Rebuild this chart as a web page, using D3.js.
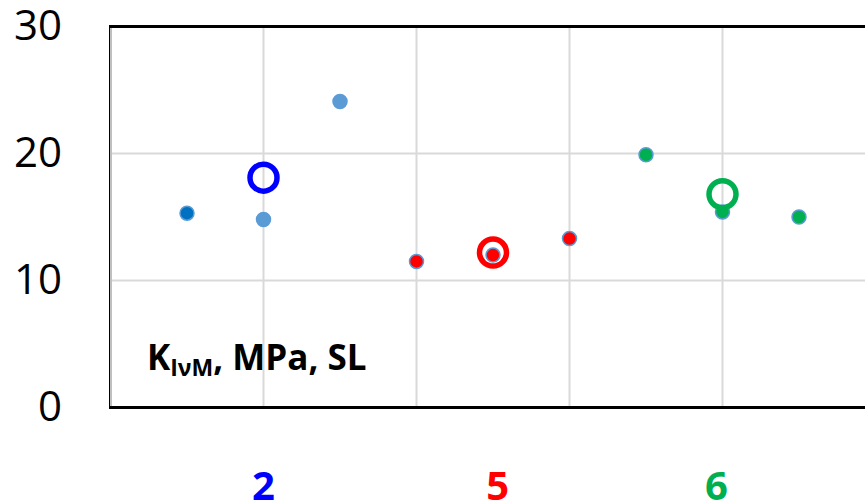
<!DOCTYPE html>
<html>
<head>
<meta charset="utf-8">
<script src="https://cdn.jsdelivr.net/npm/d3@7"></script>
<style>
  body { margin: 0; background: #fff; }
  svg { display: block; }
</style>
</head>
<body>
<div id="chart"></div>
<script>
// ---- Data ----
const yTicks = [0, 10, 20, 30];
const gridX = [1, 2, 3, 4];

// individual measurements
const pointX = [0.5, 1, 1.5, 2, 2.5, 3, 3.5, 4, 4.5];
const pointValues = [15.3, 14.8, 24.1, 11.5, 12.0, 13.3, 19.9, 15.4, 15.0];
const pointGroup = ['2', '2', '2', '5', '5', '5', '6', '6', '6'];

// group means (open rings)
const groups = ['2', '5', '6'];
const meanX = [1, 2.5, 4];
const meanValues = [18.1, 12.2, 16.8];
const labelX = [1, 2.53, 3.96];

// ---- Styles ----
const groupColor = d3.scaleOrdinal().domain(groups).range(['#0000FF', '#FF0000', '#00B050']);
const pointFill = (g, i) => g === '2' ? (i === 0 ? '#0070C0' : '#5B9BD5') : groupColor(g);

const width = 865, height = 504;

const svg = d3.select('#chart')
  .append('svg')
  .attr('width', width)
  .attr('height', height);

// Scales
const x = d3.scaleLinear().domain([0, 5]).range([110.5, 875.5]);
const y = d3.scaleLinear().domain([0, 30]).range([407.5, 26.5]);

// Gridlines
svg.append('g')
  .selectAll('line')
  .data(yTicks.filter(d => d > 0 && d < 30))
  .join('line')
  .attr('x1', x(0)).attr('x2', width)
  .attr('y1', d => y(d)).attr('y2', d => y(d))
  .attr('stroke', '#D9D9D9').attr('stroke-width', 2);

svg.append('g')
  .selectAll('line')
  .data(gridX)
  .join('line')
  .attr('x1', d => x(d)).attr('x2', d => x(d))
  .attr('y1', y(30)).attr('y2', y(0))
  .attr('stroke', '#D9D9D9').attr('stroke-width', 2);

// Frame
svg.append('line')
  .attr('x1', 111).attr('x2', 111)
  .attr('y1', y(30)).attr('y2', y(0))
  .attr('stroke', '#BFBFBF').attr('stroke-width', 2);
svg.append('line')
  .attr('x1', 109.5).attr('x2', 109.5)
  .attr('y1', y(30) - 1.5).attr('y2', y(0) + 1.5)
  .attr('stroke', '#000').attr('stroke-width', 1);
svg.append('line')
  .attr('x1', 109).attr('x2', width)
  .attr('y1', y(30)).attr('y2', y(30))
  .attr('stroke', '#000').attr('stroke-width', 3);
svg.append('line')
  .attr('x1', 109).attr('x2', width)
  .attr('y1', y(0)).attr('y2', y(0))
  .attr('stroke', '#000').attr('stroke-width', 3);

// Y axis labels
const yAxis = d3.axisLeft(y)
  .tickValues(yTicks)
  .tickSize(0)
  .tickPadding(0)
  .tickFormat(d3.format('d'));

svg.append('g')
  .attr('transform', 'translate(62,0)')
  .call(yAxis)
  .call(g => g.select('.domain').remove())
  .call(g => g.selectAll('text')
    .attr('font-family', '"Open Sans", sans-serif')
    .attr('font-size', 42)
    .attr('fill', '#000'));

// Individual points
svg.append('g')
  .selectAll('circle')
  .data(pointX)
  .join('circle')
  .attr('cx', d => x(d))
  .attr('cy', (d, i) => y(pointValues[i]))
  .attr('r', 7)
  .attr('fill', (d, i) => pointFill(pointGroup[i], i))
  .attr('stroke', '#5B9BD5')
  .attr('stroke-width', 1.5);

// Mean rings
svg.append('g')
  .selectAll('circle')
  .data(meanX)
  .join('circle')
  .attr('cx', d => x(d))
  .attr('cy', (d, i) => y(meanValues[i]))
  .attr('r', 13.5)
  .attr('fill', 'none')
  .attr('stroke', (d, i) => groupColor(groups[i]))
  .attr('stroke-width', 5.5);

// Group labels
svg.append('g')
  .selectAll('text')
  .data(groups)
  .join('text')
  .attr('x', (d, i) => x(labelX[i]))
  .attr('y', 500)
  .attr('text-anchor', 'middle')
  .attr('font-family', '"Open Sans", sans-serif')
  .attr('font-weight', 'bold')
  .attr('font-size', 40)
  .attr('fill', d => groupColor(d))
  .text(d => d);

// Annotation
const note = svg.append('text')
  .attr('x', 147)
  .attr('y', 370)
  .attr('font-family', '"Open Sans", sans-serif')
  .attr('font-weight', 'bold')
  .attr('font-size', 35)
  .attr('fill', '#000');
note.append('tspan').text('K');
note.append('tspan').attr('font-size', 23).attr('dy', 6).text('IνM');
note.append('tspan').attr('dy', -6).text(', MPa, SL');
</script>
</body>
</html>
